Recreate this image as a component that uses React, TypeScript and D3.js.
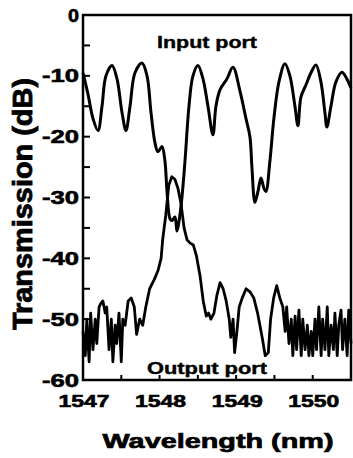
import { useEffect, useRef } from 'react';
import * as d3 from 'd3';

// wavelength (nm) and transmission (dB)
const INPUT_WL = [
  1547.0, 1547.065, 1547.13, 1547.196, 1547.248, 1547.3, 1547.379, 1547.444, 1547.509, 1547.561,
  1547.614, 1547.679, 1547.77, 1547.836, 1547.888, 1547.94, 1547.979, 1548.031, 1548.07, 1548.097,
  1548.136, 1548.162, 1548.201, 1548.227, 1548.253, 1548.292, 1548.332, 1548.384, 1548.436, 1548.501,
  1548.567, 1548.632, 1548.697, 1548.736, 1548.789, 1548.88, 1548.958, 1549.05, 1549.128, 1549.18,
  1549.206, 1549.245, 1549.285, 1549.324, 1549.363, 1549.389, 1549.441, 1549.493, 1549.559, 1549.637,
  1549.702, 1549.768, 1549.807, 1549.846, 1549.911, 1549.977, 1550.042, 1550.107, 1550.159, 1550.185,
  1550.238, 1550.303, 1550.381, 1550.446, 1550.499,
];
const INPUT_DB = [
  -9.5, -13, -17, -19, -15, -10, -8.3, -10.5, -16, -19,
  -15, -9.5, -7.9, -10, -16, -21, -22.5, -21.6, -24, -29,
  -33.5, -33.8, -33.2, -35.5, -34, -30, -24, -15, -10, -8.3,
  -10.5, -15, -19.7, -15, -12.3, -10.5, -8.6, -12.5, -17, -20,
  -25, -30.8, -29, -26.8, -28.5, -29, -24, -17, -11, -8,
  -10, -15, -18.2, -13.5, -11.5, -9.5, -8.2, -11, -16, -18.4,
  -15, -11, -9.4, -10.5, -12,
];

const OUTPUT_WL = [
  1547.0, 1547.03, 1547.05, 1547.08, 1547.1, 1547.13, 1547.16, 1547.18, 1547.21, 1547.23,
  1547.26, 1547.29, 1547.31, 1547.34, 1547.37, 1547.39, 1547.42, 1547.44, 1547.47, 1547.5,
  1547.52, 1547.55, 1547.59, 1547.63, 1547.67, 1547.7, 1547.74, 1547.78, 1547.82, 1547.87,
  1547.93, 1547.98, 1548.02, 1548.04, 1548.08, 1548.12, 1548.16, 1548.2, 1548.24, 1548.28,
  1548.32, 1548.36, 1548.4, 1548.44, 1548.48, 1548.53, 1548.57, 1548.61, 1548.64, 1548.67,
  1548.71, 1548.75, 1548.79, 1548.83, 1548.87, 1548.91, 1548.93, 1548.96, 1548.98, 1549.01,
  1549.04, 1549.08, 1549.13, 1549.18, 1549.23, 1549.28, 1549.34, 1549.38, 1549.42, 1549.45,
  1549.49, 1549.53, 1549.57, 1549.61, 1549.64, 1549.66, 1549.69, 1549.72, 1549.74, 1549.77,
  1549.79, 1549.82, 1549.85, 1549.87, 1549.9, 1549.93, 1549.95, 1549.98, 1550.0, 1550.03,
  1550.05, 1550.08, 1550.11, 1550.13, 1550.16, 1550.19, 1550.21, 1550.24, 1550.27, 1550.29,
  1550.32, 1550.34, 1550.37, 1550.39, 1550.42, 1550.45, 1550.47, 1550.5,
];
const OUTPUT_DB = [
  -52, -56, -50, -57, -49, -55, -50, -54, -48, -47.5,
  -47, -49, -48, -55, -50, -57, -51, -54, -49, -57,
  -50, -51, -47, -46.5, -48, -52.5, -50, -51, -48, -45,
  -43.5, -42, -40, -37, -33, -28, -26.6, -27, -28.5, -31,
  -35, -37, -37.5, -37.8, -39.5, -43, -47, -49.5, -49, -50,
  -49, -46, -44, -45, -47, -50, -53, -50, -55.5, -52,
  -48, -46.5, -45, -45.5, -46.5, -49, -53, -56, -55.5, -50,
  -46.5, -44.5, -46.5, -48, -52, -48, -54, -50, -56, -49.5,
  -55, -48.5, -56, -50, -55, -51, -56, -52, -56, -50,
  -55, -48, -56, -50, -55, -48, -56, -51, -55, -49,
  -56, -51, -48.5, -55, -50, -56, -48.5, -54,
];

const X_TICKS = [1547, 1548, 1549, 1550];
const Y_TICKS = [0, -10, -20, -30, -40, -50, -60];

const W = 353;
const H = 458;
const FONT = '"Liberation Sans", Arial, sans-serif';

export default function App() {
  const svgRef = useRef<SVGSVGElement>(null);

  useEffect(() => {
    if (!svgRef.current) return;
    const svg = d3.select(svgRef.current);
    svg.selectAll('*').remove();

    const left = 83, right = 351, top = 15, bottom = 380;
    const x = d3.scaleLinear().domain([1547, 1550.5]).range([left, right]);
    const y = d3.scaleLinear().domain([-60, 0]).range([bottom, top]);

    const line = d3.line<[number, number]>()
      .x(d => x(d[0])).y(d => y(d[1]));

    const inputPts = INPUT_WL.map((w, i) => [w, INPUT_DB[i]] as [number, number]);
    const outputPts = OUTPUT_WL.map((w, i) => [w, OUTPUT_DB[i]] as [number, number]);

    svg.append('path')
      .attr('d', line.curve(d3.curveCatmullRom.alpha(0.5))(inputPts))
      .attr('fill', 'none').attr('stroke', '#000').attr('stroke-width', 3)
      .attr('stroke-linejoin', 'round');

    svg.append('path')
      .attr('d', line.curve(d3.curveLinear)(outputPts))
      .attr('fill', 'none').attr('stroke', '#000').attr('stroke-width', 2.8)
      .attr('stroke-linejoin', 'round');

    // frame
    svg.append('rect')
      .attr('x', left).attr('y', top).attr('width', right - left).attr('height', bottom - top)
      .attr('fill', 'none').attr('stroke', '#000').attr('stroke-width', 2.5);

    // inward ticks
    const yMinor = d3.range(-55, 0, 10);
    svg.selectAll('line.ytick').data([...Y_TICKS, ...yMinor]).join('line')
      .attr('class', 'ytick')
      .attr('x1', left).attr('x2', left + 7)
      .attr('y1', d => y(d)).attr('y2', d => y(d))
      .attr('stroke', '#000').attr('stroke-width', 2);

    const xAll = d3.range(1547.5, 1550.5, 0.5);
    svg.selectAll('line.xtick').data(xAll).join('line')
      .attr('class', 'xtick')
      .attr('x1', d => x(d)).attr('x2', d => x(d))
      .attr('y1', bottom).attr('y2', bottom - 5)
      .attr('stroke', '#000').attr('stroke-width', 2);

    const heavy = (sel: d3.Selection<SVGTextElement, any, any, any>, w = 0.6) =>
      sel.attr('font-family', FONT).attr('font-weight', 700)
        .attr('fill', '#000').attr('stroke', '#000').attr('stroke-width', w)
        .attr('lengthAdjust', 'spacingAndGlyphs');

    // tick labels
    svg.selectAll<SVGTextElement, number>('text.ylab').data(Y_TICKS).join('text')
      .attr('class', 'ylab')
      .attr('x', 79).attr('y', d => y(d) + 6.5)
      .attr('text-anchor', 'end')
      .attr('font-size', 18)
      .attr('textLength', d => (d === 0 ? 11 : 37))
      .call(heavy)
      .text(d => String(d));

    svg.selectAll<SVGTextElement, number>('text.xlab').data(X_TICKS).join('text')
      .attr('class', 'xlab')
      .attr('x', d => x(d) + 1).attr('y', 407)
      .attr('text-anchor', 'middle')
      .attr('font-size', 17)
      .attr('textLength', 51)
      .call(heavy)
      .text(d => String(d));

    // axis titles
    svg.append('text')
      .attr('x', 218).attr('y', 448)
      .attr('text-anchor', 'middle')
      .attr('font-size', 21)
      .attr('textLength', 231)
      .call(heavy, 0.7)
      .text('Wavelength (nm)');

    svg.append('text')
      .attr('transform', 'translate(32,204) rotate(-90)')
      .attr('text-anchor', 'middle')
      .attr('font-size', 28)
      .attr('textLength', 252)
      .call(heavy, 0.8)
      .text('Transmission (dB)');

    // port labels
    svg.append('text')
      .attr('x', 157).attr('y', 48)
      .attr('font-size', 17)
      .attr('textLength', 100)
      .call(heavy, 0.4)
      .text('Input port');

    svg.append('text')
      .attr('x', 147).attr('y', 374)
      .attr('font-size', 16)
      .attr('textLength', 120)
      .call(heavy, 0.4)
      .text('Output port');
  }, []);

  return (
    <svg
      ref={svgRef}
      width={W}
      height={H}
      style={{ position: 'absolute', left: 0, top: 0, background: '#fff' }}
    />
  );
}
